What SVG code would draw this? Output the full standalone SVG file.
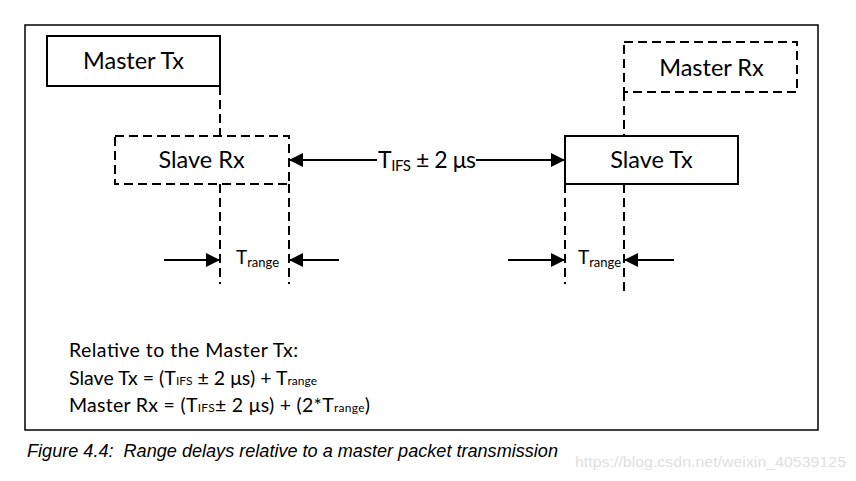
<svg xmlns="http://www.w3.org/2000/svg" width="856" height="481" viewBox="0 0 856 481">
<defs>
<style>
.box{fill:none;stroke:#000;stroke-width:2}
.dash{stroke-dasharray:9 5}
.lbl{font-family:Lato,"Open Sans",sans-serif;font-size:23.5px;fill:#000;text-anchor:middle}
.conn{stroke:#000;stroke-width:2;fill:none}
.vl{stroke:#000;stroke-width:2;stroke-dasharray:9 5;fill:none}
.txt{font-family:Lato,"Open Sans",sans-serif;fill:#000}
</style>
<marker id="ah" markerUnits="userSpaceOnUse" markerWidth="14" markerHeight="14" refX="14" refY="7" orient="auto">
<path d="M0,0 L14,7 L0,14 z" fill="#000"/>
</marker>
</defs>
<rect width="856" height="481" fill="#fff"/>
<rect id="frame" x="25" y="25" width="793" height="405" fill="none" stroke="#000" stroke-width="1.5"/>

<g id="connectors">
<line class="vl" x1="220" y1="86" x2="220" y2="136"/>
<line class="vl" x1="220" y1="184" x2="220" y2="284"/>
<line class="vl" x1="289" y1="184" x2="289" y2="284"/>
<line class="vl" x1="565" y1="184" x2="565" y2="284"/>
<line class="vl" x1="624" y1="92" x2="624" y2="136"/>
<line class="vl" x1="624" y1="184" x2="624" y2="291"/>
<line class="conn" x1="377" y1="160" x2="289" y2="160" marker-end="url(#ah)"/>
<line class="conn" x1="476" y1="160" x2="565" y2="160" marker-end="url(#ah)"/>
<line class="conn" x1="164" y1="260" x2="220" y2="260" marker-end="url(#ah)"/>
<line class="conn" x1="339" y1="260" x2="289" y2="260" marker-end="url(#ah)"/>
<line class="conn" x1="508" y1="260" x2="565" y2="260" marker-end="url(#ah)"/>
<line class="conn" x1="674" y1="260" x2="624" y2="260" marker-end="url(#ah)"/>
<text class="txt" x="378" y="168" font-size="23" textLength="98">T<tspan font-size="15" dy="3">IFS</tspan><tspan dy="-3"> ± 2 μs</tspan></text>
<text class="txt" x="236" y="263.5" font-size="19">T<tspan font-size="13" dy="3">range</tspan></text>
<text class="txt" x="578" y="263.5" font-size="19">T<tspan font-size="13" dy="3">range</tspan></text>
</g>

<g id="master-tx">
<rect class="box" x="47" y="36" width="173" height="50"/>
<text class="lbl" x="133.5" y="68.5">Master Tx</text>
</g>
<g id="slave-rx">
<rect class="box dash" x="115" y="136" width="174" height="48"/>
<text class="lbl" x="201.5" y="168">Slave Rx</text>
</g>
<g id="master-rx">
<rect class="box dash" x="624" y="42" width="173" height="50"/>
<text class="lbl" x="711.5" y="76">Master Rx</text>
</g>
<g id="slave-tx">
<rect class="box" x="565" y="136" width="173" height="48"/>
<text class="lbl" x="651.5" y="168">Slave Tx</text>
</g>

<g id="notes">
<text class="txt" x="69" y="357" font-size="19.5" textLength="229">Relative to the Master Tx:</text>
<text class="txt" x="69" y="384.5" font-size="19.5" textLength="248">Slave Tx = (T<tspan font-size="12">IFS</tspan> ± 2 μs) + T<tspan font-size="12">range</tspan></text>
<text class="txt" x="69" y="411.5" font-size="19.5" textLength="301">Master Rx = (T<tspan font-size="12">IFS</tspan>± 2 μs) + (2*T<tspan font-size="12">range</tspan>)</text>
</g>

<text x="27" y="457" xml:space="preserve" font-family="'Liberation Sans',Arial,sans-serif" font-style="italic" font-size="18" textLength="531" lengthAdjust="spacingAndGlyphs" fill="#000">Figure 4.4:  Range delays relative to a master packet transmission</text>
<text x="575" y="467" font-family="'Liberation Sans',Arial,sans-serif" font-size="15" textLength="271" lengthAdjust="spacingAndGlyphs" fill="#e0e0e0">https://blog.csdn.net/weixin_40539125</text>
</svg>
